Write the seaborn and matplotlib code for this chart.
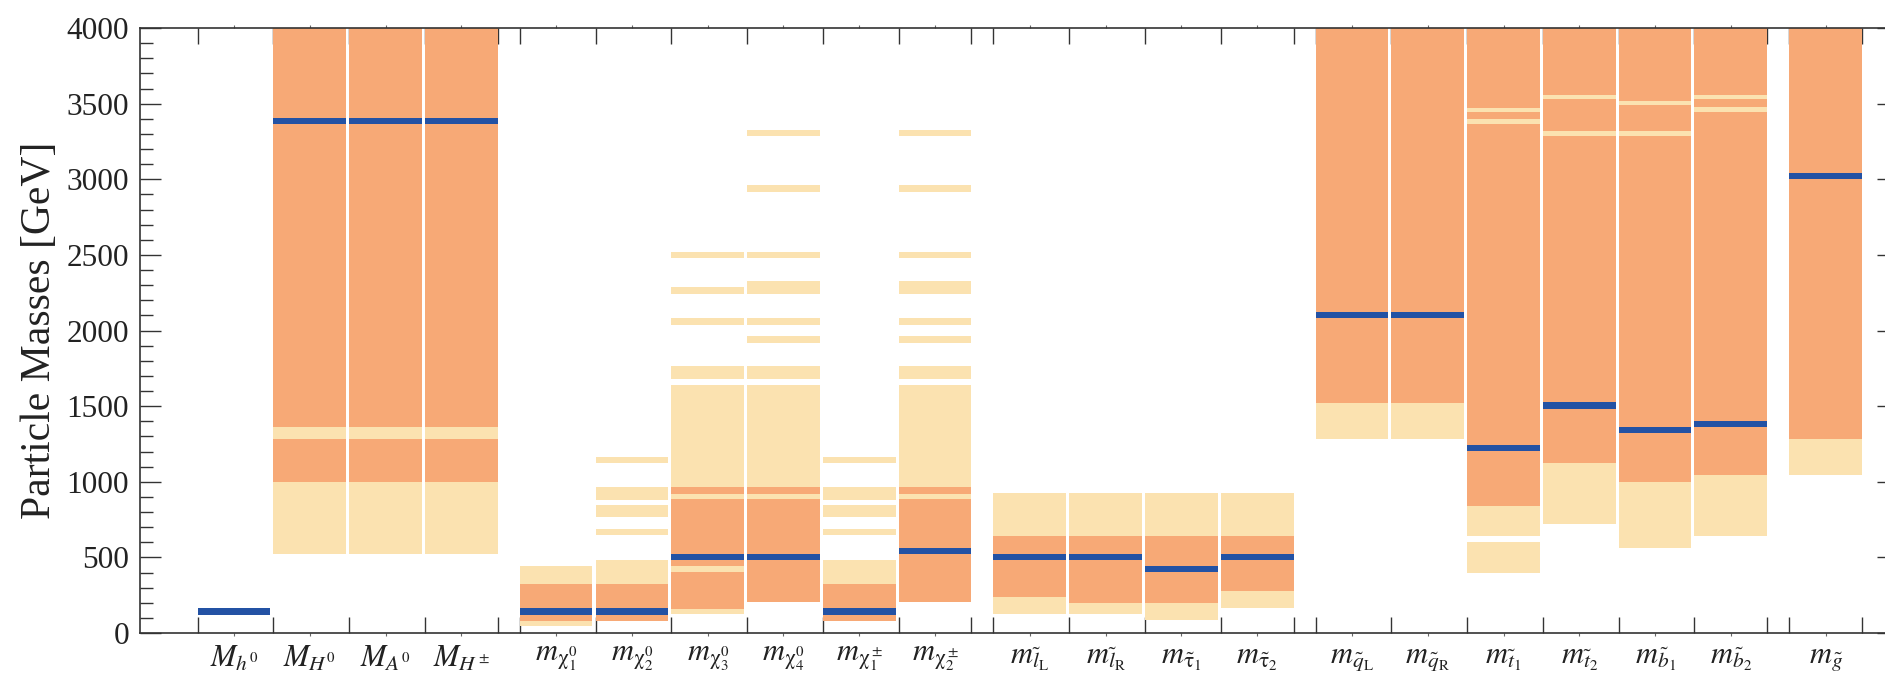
import matplotlib
matplotlib.use("Agg")
import matplotlib.pyplot as plt
from matplotlib.ticker import MultipleLocator, FixedLocator
import pandas as pd
import seaborn as sns

# Particle labels (mathtext), grouped: Higgs, inos, sleptons, squarks, gluino
labels = [
    r"$M_{h^0}$", r"$M_{H^0}$", r"$M_{A^0}$", r"$M_{H^\pm}$",
    r"$m_{\mathrm{\chi}^0_1}$", r"$m_{\mathrm{\chi}^0_2}$", r"$m_{\mathrm{\chi}^0_3}$",
    r"$m_{\mathrm{\chi}^0_4}$", r"$m_{\mathrm{\chi}^\pm_1}$", r"$m_{\mathrm{\chi}^\pm_2}$",
    r"$m_{\tilde{l}_\mathrm{L}}$", r"$m_{\tilde{l}_\mathrm{R}}$",
    r"$m_{\tilde{\mathrm{\tau}}_1}$", r"$m_{\tilde{\mathrm{\tau}}_2}$",
    r"$m_{\tilde{q}_\mathrm{L}}$", r"$m_{\tilde{q}_\mathrm{R}}$",
    r"$m_{\tilde{t}_1}$", r"$m_{\tilde{t}_2}$", r"$m_{\tilde{b}_1}$", r"$m_{\tilde{b}_2}$",
    r"$m_{\tilde{g}}$",
]
group_sizes = [4, 6, 4, 6, 1]

# Best-fit masses [GeV]
best_fit = [142, 3383, 3383, 3383,
            142, 142, 502, 502, 142, 545,
            502, 502, 423, 502,
            2102, 2102, 1223, 1504, 1342, 1382,
            3024]

# Outer (wide) ranges [GeV], one list of (low, high) per particle
heavy_ino_light = [(886, 1642), (1679, 1762), (1920, 1963), (2038, 2083),
                   (2244, 2327), (2482, 2522), (2919, 2961), (3283, 3325)]
light_ino_light = [(324, 483), (646, 688), (764, 846), (881, 964), (1122, 1165)]
light_bands = [
    [],
    [(522, 1361)], [(522, 1361)], [(522, 1361)],
    [(43, 445)],
    light_ino_light,
    [(124, 1642), (1679, 1762), (2038, 2083), (2244, 2286), (2482, 2522)],
    heavy_ino_light,
    light_ino_light,
    heavy_ino_light,
    [(123, 923)], [(123, 923)], [(86, 923)], [(163, 923)],
    [(1282, 1521)], [(1282, 1521)],
    [(397, 602), (642, 3474)],
    [(722, 3556)],
    [(562, 3516)],
    [(642, 3556)],
    [(1046, 1282)],
]

# Inner (narrow) ranges [GeV]
dark_bands = [
    [],
    [(998, 1281), (1361, 4100)], [(998, 1281), (1361, 4100)], [(998, 1281), (1361, 4100)],
    [(81, 324)],
    [(81, 324)],
    [(161, 402), (445, 886), (922, 964)],
    [(207, 886), (922, 964)],
    [(81, 324)],
    [(207, 886), (922, 964)],
    [(238, 641)], [(198, 641)], [(198, 641)], [(280, 641)],
    [(1521, 4100)], [(1521, 4100)],
    [(841, 3366), (3397, 3445), (3474, 4100)],
    [(1123, 3286), (3320, 3528), (3556, 4100)],
    [(998, 3283), (3320, 3488), (3516, 4100)],
    [(1046, 3445), (3477, 3528), (3556, 4100)],
    [(1282, 4100)],
]

light_color = "#FBE2B0"
dark_color = "#F7A976"
best_color = "#2352A4"
axis_color = "#333333"
text_color = "#222222"

sns.set_theme(style="ticks")
plt.rcParams["font.family"] = ["Liberation Serif", "DejaVu Serif"]
plt.rcParams["mathtext.fontset"] = "stix"

# Horizontal layout: unit pitch inside a group, wider step between groups
bar_w = 0.96
group_step = 1.25
starts = []
edges = []
pos = 0.0
for n in group_sizes:
    for k in range(n):
        starts.append(pos)
        edges.append(pos)
        pos += 1.0
    edges.append(starts[-1] + bar_w)
    pos += group_step - 1.0
centers = [s + bar_w / 2 for s in starts]

rows = []
for i, bands in enumerate(light_bands):
    for lo, hi in bands:
        rows.append(dict(idx=i, lo=lo, hi=hi, kind="light"))
for i, bands in enumerate(dark_bands):
    for lo, hi in bands:
        rows.append(dict(idx=i, lo=lo, hi=hi, kind="dark"))
bands_df = pd.DataFrame(rows)

fig = plt.figure(figsize=(18.85, 6.75), dpi=100)
ax = fig.add_axes([140 / 1885, 42 / 675, 1758 / 1885, 605 / 675])

for kind, color, z in [("light", light_color, 1), ("dark", dark_color, 2)]:
    sub = bands_df[bands_df.kind == kind]
    ax.bar([starts[i] for i in sub.idx], sub.hi - sub.lo, bottom=sub.lo,
           width=bar_w, align="edge", color=color, linewidth=0, zorder=z)

# Best-fit markers as thin bars centred on each value
thick = 40
ax.bar(starts, [thick] * len(best_fit), bottom=[v - thick / 2 for v in best_fit],
       width=bar_w, align="edge", color=best_color, linewidth=0, zorder=3)

ax.set_xlim(starts[0] - 0.76, starts[-1] + bar_w + 0.475)
ax.set_ylim(0, 4000)

ax.yaxis.set_major_locator(MultipleLocator(500))
ax.yaxis.set_minor_locator(MultipleLocator(100))
ax.xaxis.set_major_locator(FixedLocator(centers))
ax.xaxis.set_minor_locator(FixedLocator(edges))
ax.set_xticklabels(labels)

ax.tick_params(axis="y", which="both", direction="in", left=True, right=True,
               color=axis_color, labelsize=22.5, labelcolor=text_color, pad=8)
ax.tick_params(axis="y", which="major", length=15, width=1.0)
ax.tick_params(axis="y", which="minor", length=9, width=1.0)
ax.tick_params(axis="x", which="major", direction="out", length=2, width=0.8,
               top=True, bottom=True, color="#666666", labelsize=22,
               labelcolor=text_color, pad=6)
ax.tick_params(axis="x", which="minor", direction="in", length=11.5, width=1.0,
               top=True, bottom=True, color=axis_color)

for side in ["left", "right", "top", "bottom"]:
    ax.spines[side].set_color(axis_color)
    ax.spines[side].set_linewidth(1.2)

ax.set_ylabel("Particle Masses [GeV]", fontsize=30, color=text_color, labelpad=5)

fig.savefig("out.png", dpi=100)
